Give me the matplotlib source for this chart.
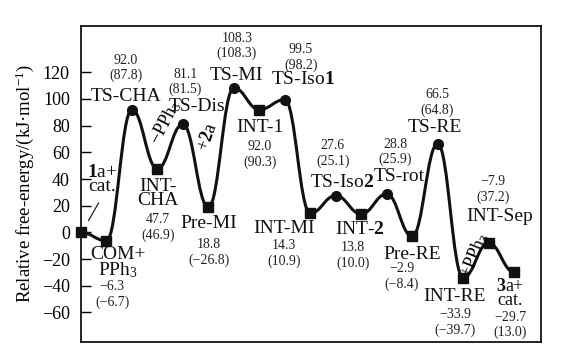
import matplotlib
matplotlib.use("Agg")
import matplotlib.pyplot as plt
from matplotlib.path import Path
from matplotlib.patches import PathPatch

plt.rcParams['font.family'] = ['Liberation Serif', 'DejaVu Serif']
plt.rcParams['mathtext.fontset'] = 'custom'
plt.rcParams['mathtext.rm'] = 'Liberation Serif'
plt.rcParams['mathtext.it'] = 'Liberation Serif:italic'
plt.rcParams['mathtext.bf'] = 'Liberation Serif:bold'

# donnees du profil
noms = [r"$\mathbf{1}$a+" + "\ncat.", "COM+\nPPh$_3$", "TS-CHA", "INT-\nCHA", "TS-Dis",
        "Pre-MI", "TS-MI", "INT-1", r"TS-Iso$\mathbf{1}$", "INT-MI", r"TS-Iso$\mathbf{2}$",
        r"INT-$\mathbf{2}$", "TS-rot", "Pre-RE", "TS-RE", "INT-RE", "INT-Sep",
        r"$\mathbf{3}$a+" + "\ncat."]
energie = [0.0, -6.3, 92.0, 47.7, 81.1, 18.8, 108.3, 92.0, 99.5, 14.3, 27.6, 13.8,
           28.8, -2.9, 66.5, -33.9, -7.9, -29.7]
energie_par = [None, -6.7, 87.8, 46.9, 81.5, -26.8, 108.3, 90.3, 98.2, 10.9, 25.1,
               10.0, 25.9, -8.4, 64.8, -39.7, 37.2, 13.0]
yticks = [-60, -40, -20, 0, 20, 40, 60, 80, 100, 120]

# positions des etiquettes (nom) et des valeurs (x, y en coordonnees donnees)
pos_nom = [(0.82, 39.5), (1.45, -23.0), (1.77, 101.6), (3.02, 29.0), (4.55, 94.1),
           (5.03, 6.4), (6.12, 117.3), (7.03, 78.3), (8.72, 114.3), (7.97, 2.6),
           (10.25, 37.1), (10.95, 1.9), (12.49, 41.6), (13.0, -16.9), (13.9, 78.3),
           (14.68, -48.4), (16.45, 11.6), (16.84, -45.6)]
pos_val = [None, (1.22, -40.9), (1.77, 128.6), (3.02, 9.4), (4.10, 118.5),
           (5.03, -9.4), (6.12, 145.1), (7.03, 64.1), (8.64, 136.8), (7.97, -10.1),
           (9.89, 64.8), (10.68, -11.6), (12.33, 66.0), (12.6, -27.4), (13.98, 103.1),
           (14.68, -61.8), (16.18, 37.9), (16.84, -63.6)]
taille_nom = [14] * 17 + [13]
gap = 11.2

x = list(range(len(energie)))

fig = plt.figure(figsize=(5.66, 3.54), dpi=100)
ax = fig.add_axes([0.143, 0.034, 0.813, 0.893])

# courbe lisse (bezier a tangentes horizontales)
verts = [(x[0], energie[0])]
codes = [Path.MOVETO]
k = 0.42
for i in range(len(x) - 1):
    dx = x[i + 1] - x[i]
    verts += [(x[i] + k * dx, energie[i]), (x[i + 1] - k * dx, energie[i + 1]),
              (x[i + 1], energie[i + 1])]
    codes += [Path.CURVE4] * 3
ax.add_patch(PathPatch(Path(verts, codes), fill=False, lw=2.2, color='#111111',
                       capstyle='round', joinstyle='round', zorder=2))

for i in range(len(x)):
    m = 'o' if noms[i].startswith('TS') else 's'
    ms = 7 if m == 'o' else 7.5
    ax.plot(x[i], energie[i], marker=m, ms=ms, color='#111111', zorder=3, clip_on=False)

def fmt(v):
    return f"{v:.1f}".replace('-', '\u2212')

for i in range(len(x)):
    xn, yn = pos_nom[i]
    ax.text(xn, yn, noms[i], fontsize=taille_nom[i], ha='center', va='center',
            linespacing=0.8, color='#111111')
    if pos_val[i] is not None:
        xv, yv = pos_val[i]
        ax.text(xv, yv, fmt(energie[i]), fontsize=10, ha='center', va='center', color='#222222')
        ax.text(xv, yv - gap, "(" + fmt(energie_par[i]) + ")", fontsize=10, ha='center',
                va='center', color='#222222')

# etiquettes inclinees
ax.text(3.30, 82.1, "\u2212PPh$_3$", fontsize=13, rotation=62, ha='center', va='center')
ax.text(4.99, 71.6, r"+$\mathbf{2}$a", fontsize=13, rotation=70, ha='center', va='center')
ax.text(15.47, -16.9, "+PPh$_3$", fontsize=13, rotation=68, ha='center', va='center')

# trait vers 1a+cat.
ax.annotate('', xy=(x[0] + 0.24, energie[0] + 7), xytext=(x[0] + 0.75, energie[0] + 24),
            arrowprops=dict(arrowstyle='-', lw=0.9, color='#222222'))

ax.set_xlim(0, 18.06)
ax.set_ylim(-82.1, 154.8)
ax.set_xticks([])
ax.set_yticks(yticks)
ax.set_yticklabels([str(t).replace('-', '\u2212') for t in yticks])
ax.tick_params(axis='y', direction='in', length=7, width=1, labelsize=13, pad=8)
for s in ax.spines.values():
    s.set_linewidth(1.2)
ax.set_ylabel("Relative free-energy/(kJ\u00b7mol$^{-1}$)", fontsize=13.5, labelpad=4)

fig.savefig("out.png", dpi=100)
